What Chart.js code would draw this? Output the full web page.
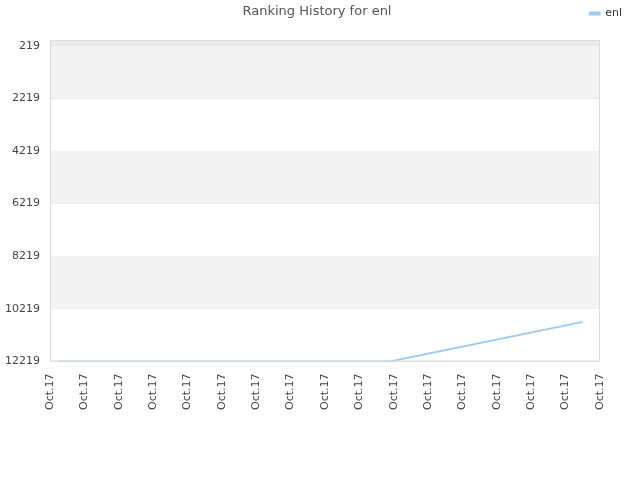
<!DOCTYPE html>
<html>
<head>
<meta charset="utf-8">
<script src="https://cdn.jsdelivr.net/npm/chart.js@4"></script>
<style>
html,body{margin:0;padding:0;background:#fff;}
#wrap{width:640px;height:480px;}
</style>
</head>
<body>
<div id="wrap"><canvas id="c" width="640" height="480"></canvas></div>
<script>
const titleText = "Ranking History for enl";
const seriesName = "enl";
const xLabels = ["Oct.17","Oct.17","Oct.17","Oct.17","Oct.17","Oct.17","Oct.17","Oct.17","Oct.17","Oct.17","Oct.17","Oct.17","Oct.17","Oct.17","Oct.17","Oct.17","Oct.17"];
const xPositions = [0.23, 9.9, 15.5];
const rankValues = [12219, 12219, 10716];
const yTicks = [219, 2219, 4219, 6219, 8219, 10219, 12219];

const lineColor = "#9ecbf4";

const bandsPlugin = {
  id: "bands",
  beforeInit(chart) {
    const origFit = chart.legend.fit;
    chart.legend.fit = function () {
      origFit.bind(chart.legend)();
      this.height += 11;
    };
  },
  beforeDatasetsDraw(chart) {
    const {ctx, chartArea: a, scales: {y}} = chart;
    ctx.save();
    const yTop = y.getPixelForValue(y.min);
    const yFirst = y.getPixelForValue(yTicks[0]);
    ctx.fillStyle = "#ececec";
    ctx.fillRect(a.left, yTop, a.right - a.left, yFirst - yTop);
    for (let i = 0; i < yTicks.length - 1; i++) {
      if (i % 2 === 0) {
        const p1 = y.getPixelForValue(yTicks[i]);
        const p2 = y.getPixelForValue(yTicks[i + 1]);
        ctx.fillStyle = "#f3f3f3";
        ctx.fillRect(a.left, p1, a.right - a.left, p2 - p1);
      }
    }
    ctx.restore();
  },
  afterDraw(chart) {
    const {ctx, chartArea: a} = chart;
    ctx.save();
    ctx.strokeStyle = "#dddddd";
    ctx.lineWidth = 1;
    ctx.strokeRect(a.left + 0.5, a.top + 0.5, a.right - a.left - 1, a.bottom - a.top - 1);
    ctx.fillStyle = "#555555";
    ctx.font = "13px 'DejaVu Sans'";
    ctx.textAlign = "center";
    ctx.textBaseline = "middle";
    ctx.fillText(titleText, 317, 12);
    ctx.restore();
  }
};

new Chart(document.getElementById("c"), {
  type: "line",
  data: {
    datasets: [{
      label: seriesName,
      data: xPositions.map((x, i) => ({x: x, y: rankValues[i]})),
      borderColor: lineColor,
      backgroundColor: lineColor,
      borderWidth: 1.8,
      pointRadius: 0,
      tension: 0,
      fill: false
    }]
  },
  options: {
    responsive: false,
    animation: false,
    layout: {padding: {left: 4, right: 10, top: 0, bottom: 58}},
    plugins: {
      title: {display: false},
      tooltip: {enabled: false},
      legend: {
        display: true,
        position: "top",
        align: "end",
        labels: {
          boxWidth: 10,
          boxHeight: 2,
          color: "#333",
          font: {family: "'DejaVu Sans'", size: 11},
          padding: 8
        }
      }
    },
    scales: {
      x: {
        type: "linear",
        min: 0,
        max: 16,
        afterBuildTicks(scale) {
          scale.ticks = xLabels.map((_, i) => ({value: i}));
        },
        ticks: {
          autoSkip: false,
          maxRotation: 90,
          minRotation: 90,
          color: "#444",
          font: {family: "'DejaVu Sans'", size: 11},
          padding: 12,
          callback: (v, i) => xLabels[i]
        },
        grid: {display: false, drawTicks: false},
        border: {display: false}
      },
      y: {
        type: "linear",
        reverse: true,
        min: 0,
        max: 12219,
        afterBuildTicks(scale) {
          scale.ticks = yTicks.map(v => ({value: v}));
        },
        afterFit(scale) { scale.width = 46; },
        ticks: {
          color: "#444",
          font: {family: "'DejaVu Sans'", size: 11},
          padding: 10,
          callback: v => String(v)
        },
        grid: {color: "#e2e2e2", drawTicks: false},
        border: {display: false}
      },
      y2: {
        position: "right",
        display: true,
        ticks: {display: false},
        grid: {display: false, drawTicks: false},
        border: {display: false},
        afterFit(scale) { scale.width = 30; }
      }
    }
  },
  plugins: [bandsPlugin]
});
</script>
</body>
</html>
